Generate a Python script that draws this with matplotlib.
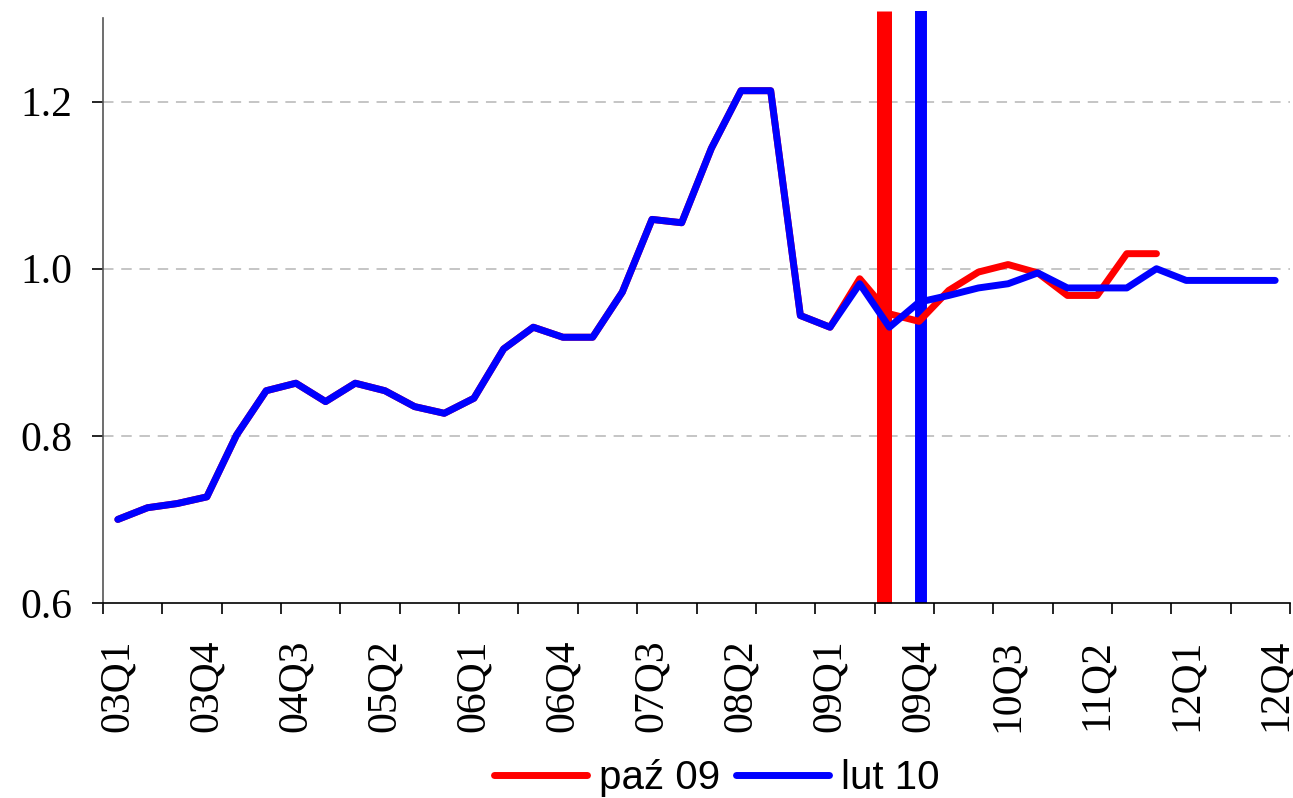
import numpy as np
import matplotlib
matplotlib.use("Agg")
import matplotlib.pyplot as plt


# quarters 03Q1 .. 12Q4
quarters = [f"{y:02d}Q{q}" for y in range(3, 13) for q in range(1, 5)]

lut10 = [0.700, 0.714, 0.719, 0.727, 0.801, 0.854, 0.863, 0.841, 0.863, 0.854,
         0.835, 0.827, 0.845, 0.904, 0.930, 0.918, 0.918, 0.972, 1.059, 1.055,
         1.144, 1.213, 1.213, 0.944, 0.930, 0.982, 0.930, 0.960, 0.968, 0.977,
         0.982, 0.995, 0.977, 0.977, 0.977, 1.000, 0.986, 0.986, 0.986, 0.986]

paz09 = lut10[:25] + [0.988, 0.946, 0.937, 0.974, 0.996, 1.005, 0.995, 0.968,
                      0.968, 1.018, 1.018] + [np.nan] * 4

# forecast round markers (category position)
paz09_mark = 25.83
lut10_mark = 27.06

RED = "#ff0000"
BLUE = "#0000ff"


def main():
    fig = plt.figure(figsize=(12.93, 7.98), dpi=100)
    ax = fig.add_axes([103 / 1293, 195 / 798, 1187 / 1293, 585 / 798])

    x = np.arange(len(quarters))

    # vertical markers, a bit taller than the axes
    ax.vlines(paz09_mark, 0.6, 1.308, color=RED, lw=10.8, clip_on=False, zorder=1)
    ax.vlines(lut10_mark, 0.6, 1.308, color=BLUE, lw=8.6, clip_on=False, zorder=1)

    ax.plot(x, paz09, color=RED, lw=5, solid_joinstyle="round",
            solid_capstyle="round", label="paź 09", zorder=3)
    ax.plot(x, lut10, color=BLUE, lw=5, solid_joinstyle="round",
            solid_capstyle="round", label="lut 10", zorder=4)

    ax.set_xlim(-0.5, len(quarters) - 0.5)
    ax.set_ylim(0.6, 1.3)

    # y axis
    ax.set_yticks([0.6, 0.8, 1.0, 1.2])
    ax.set_yticklabels(["0.6", "0.8", "1.0", "1.2"])
    for g in [0.8, 1.0, 1.2]:
        ax.axhline(g, color="#c0c0c0", lw=1.3, dashes=(5.8, 4.3), zorder=0)
    ax.tick_params(axis="y", length=8, width=1.2, pad=14, labelsize=30)

    # x axis: labels every 3 quarters, tick marks every 2
    ax.set_xticks(x[::3])
    ax.set_xticklabels(quarters[::3], rotation=90)
    ax.set_xticks(np.arange(-0.5, len(quarters), 2), minor=True)
    ax.tick_params(axis="x", which="major", length=0, pad=26, labelsize=30)
    ax.tick_params(axis="x", which="minor", length=8, width=1.2)

    for lbl in ax.get_xticklabels() + ax.get_yticklabels():
        lbl.set_fontfamily("Liberation Serif")

    ax.spines["top"].set_visible(False)
    ax.spines["right"].set_visible(False)
    ax.spines["left"].set_color("#555555")
    ax.spines["left"].set_linewidth(1.2)
    ax.spines["bottom"].set_linewidth(1.2)

    fig.legend(loc="center", bbox_to_anchor=(717 / 1293, 20 / 798), ncol=2,
               frameon=False, handlelength=2.3, handletextpad=0.3,
               columnspacing=0.4, borderaxespad=0,
               prop={"family": "Liberation Sans", "size": 29})

    fig.savefig("out.png", dpi=100)


if __name__ == "__main__":
    main()
